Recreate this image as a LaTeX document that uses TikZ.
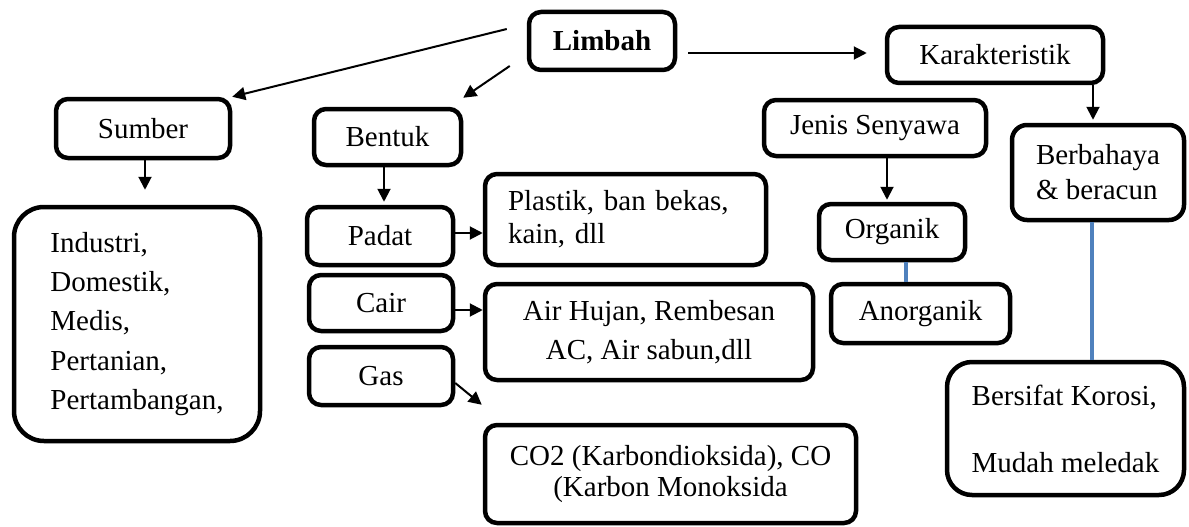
\documentclass[tikz,border=0pt]{standalone}
\usepackage{fontspec}
\setmainfont{Liberation Serif}
\usetikzlibrary{arrows.meta}
\definecolor{lineblue}{RGB}{79,129,189}
\begin{document}
\begin{tikzpicture}[x=1pt,y=-1pt,
  box/.style={draw, line width=4.5pt, rounded corners=12pt, inner sep=0pt,
    font=\fontsize{29}{33}\selectfont, align=center},
  arr/.style={line width=2pt, -{Triangle[length=13pt,width=13pt]}},
  blueline/.style={draw=lineblue, line width=4pt}]
\useasboundingbox[fill=white] (0,0) rectangle (1189,527);

\node[box, minimum width=146pt, minimum height=58pt] (limbah) at (602,41) {\textbf{Limbah}};
\node[box, minimum width=216pt, minimum height=56pt] (karak) at (995,55) {Karakteristik};
\node[box, minimum width=172pt, minimum height=95pt, rounded corners=15pt, align=left,
  font=\fontsize{29}{35}\selectfont] (berb) at (1098,172.5) {Berbahaya\\\& beracun};
\node[box, minimum width=222pt, minimum height=56pt] (jenis) at (875,128) {Jenis Senyawa};
\node[box, minimum width=146pt, minimum height=56pt] (organik) at (892,232) {Organik};
\node[box, minimum width=179pt, minimum height=59pt] (anorg) at (920.5,313.5) {Anorganik};
\node[box, minimum width=237pt, minimum height=133pt, rounded corners=25pt, align=left,
  font=\fontsize{29}{67}\selectfont] (korosi) at (1065.5,428.5) {Bersifat Korosi,\\Mudah meledak};
\node[box, minimum width=174pt, minimum height=59pt] (sumber) at (143,128.5) {Sumber};
\node[box, minimum width=246pt, minimum height=234pt, rounded corners=30pt, align=left,
  font=\fontsize{29}{39.3}\selectfont] (industri) at (137,324)
  {Industri,\\Domestik,\\Medis,\\Pertanian,\\Pertambangan,};
\node[box, minimum width=147pt, minimum height=56pt] (bentuk) at (387.5,137) {Bentuk};
\node[box, minimum width=146pt, minimum height=58pt] (padat) at (380,236) {Padat};
\node[box, minimum width=281pt, minimum height=91pt, align=left, text width=235pt] (plastik)
  at (625.5,219.5) {Plastik, ban bekas,\\kain, dll};
\node[box, minimum width=144pt, minimum height=56pt] (cair) at (381,303) {Cair};
\node[box, minimum width=328pt, minimum height=96pt, font=\fontsize{29}{39}\selectfont] (air)
  at (649,332) {Air Hujan, Rembesan\\AC, Air sabun,dll};
\node[box, minimum width=144pt, minimum height=58pt] (gas) at (381,376) {Gas};
\node[box, minimum width=371pt, minimum height=98pt, font=\fontsize{29}{31}\selectfont] (co2)
  at (670.5,474) {CO2 (Karbondioksida), CO\\(Karbon Monoksida};

% connectors
\draw[arr] ([xshift=-20pt,yshift=12pt]limbah.west) -- (sumber.north east);
\draw[arr] ([xshift=-17pt,yshift=-25pt]limbah.west) -- ([yshift=9pt]bentuk.north east);
\draw[arr] ([xshift=11pt,yshift=-12pt]limbah.east) -- ([xshift=-18pt,yshift=2pt]karak.west);

\coordinate (k1) at ([xshift=98pt]karak.south);
\draw[arr, shorten >=3pt] (k1) -- (k1 |- berb.north);
\coordinate (j1) at ([xshift=12pt]jenis.south);
\draw[arr, shorten >=2pt] (j1) -- (j1 |- organik.north);
\coordinate (o1) at ([xshift=14pt]organik.south);
\draw[blueline] (o1) -- (o1 |- anorg.north);
\coordinate (b1) at ([xshift=-6pt]berb.south);
\draw[blueline] (b1) -- (b1 |- korosi.north);

\coordinate (s1) at ([xshift=2pt]sumber.south);
\draw[arr, shorten >=15pt] (s1) -- (s1 |- industri.north);
\coordinate (be1) at ([xshift=-3.5pt]bentuk.south);
\draw[arr, shorten >=3pt] (be1) -- (be1 |- padat.north);
\coordinate (p1) at ([yshift=3pt]padat.east);
\draw[arr] (p1) -- (p1 -| plastik.west);
\coordinate (c1) at ([yshift=-7pt]cair.east);
\draw[arr] (c1) -- (c1 -| air.west);
\draw[arr] ([yshift=-7pt]gas.east) -- ([xshift=-1pt,yshift=18pt]co2.north west);
\end{tikzpicture}
\end{document}
